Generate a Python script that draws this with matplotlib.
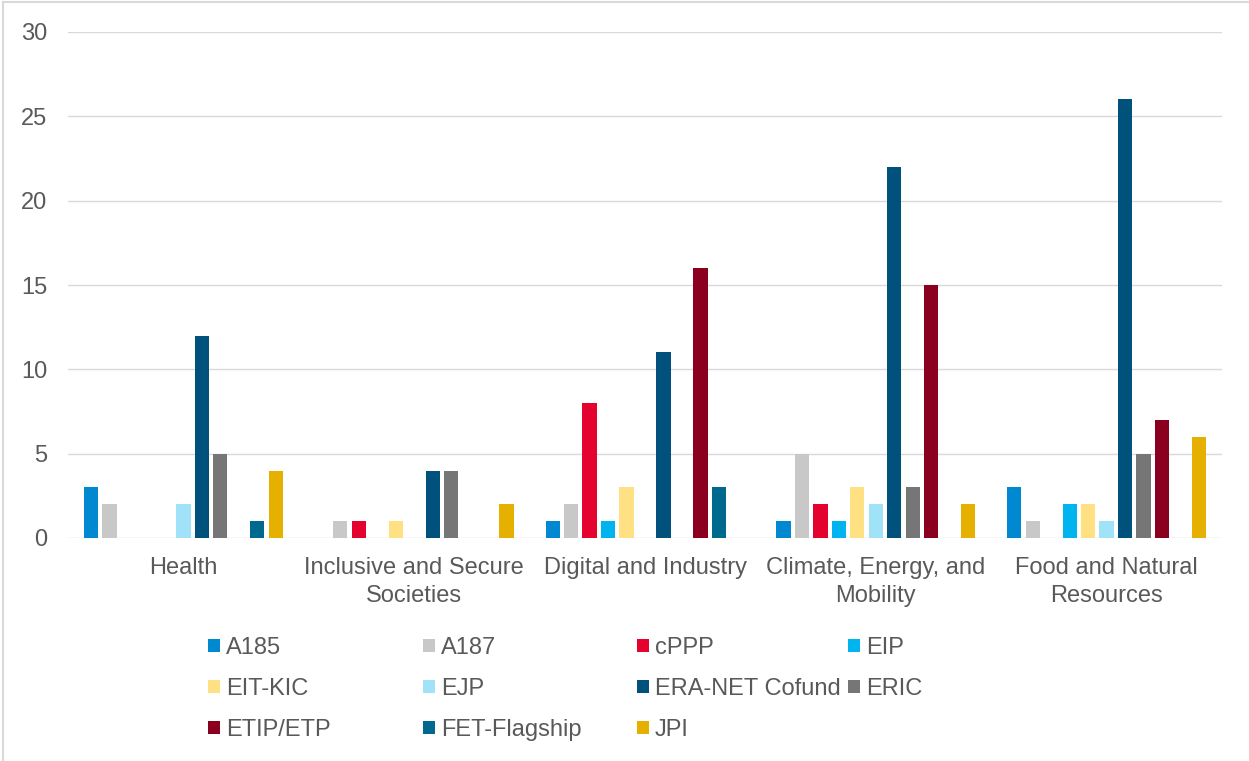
import numpy as np
import matplotlib.pyplot as plt
from matplotlib.lines import Line2D

plt.rcParams['font.family'] = ['Liberation Sans', 'DejaVu Sans']

categories = ['Health', 'Inclusive and Secure\nSocieties', 'Digital and Industry',
              'Climate, Energy, and\nMobility', 'Food and Natural\nResources']
series = ['A185', 'A187', 'cPPP', 'EIP', 'EIT-KIC', 'EJP', 'ERA-NET Cofund',
          'ERIC', 'ETIP/ETP', 'FET-Flagship', 'JPI']
colors = ['#0088D1', '#C8C8C8', '#E4032E', '#00B4F0', '#FFE082', '#A0E2F7',
          '#00527C', '#767676', '#8A001E', '#006A8E', '#E5B000']

a185 = [3, 0, 1, 1, 3]
a187 = [2, 1, 2, 5, 1]
cppp = [0, 1, 8, 2, 0]
eip = [0, 0, 1, 1, 2]
eit_kic = [0, 1, 3, 3, 2]
ejp = [2, 0, 0, 2, 1]
era_net = [12, 4, 11, 22, 26]
eric = [5, 4, 0, 3, 5]
etip = [0, 0, 16, 15, 7]
fet = [1, 0, 3, 0, 0]
jpi = [4, 2, 0, 2, 6]
values = [a185, a187, cppp, eip, eit_kic, ejp, era_net, eric, etip, fet, jpi]

text_col = '#595959'
grid_col = '#D9D9D9'

fig = plt.figure(figsize=(12.49, 7.61), dpi=100)
ax = fig.add_axes([68 / 1249, 1 - 538 / 761, (1222 - 68) / 1249, (538 - 32) / 761])

x = np.arange(len(categories))
step = 0.08
width = 0.062
bars = []
for i, (name, vals) in enumerate(zip(series, values)):
    b = ax.bar(x + (i - 5) * step, vals, width, color=colors[i], label=name, zorder=3)
    bars.append(b)

ax.set_xlim(-0.5, len(categories) - 0.5)
ax.set_ylim(0, 30)
ax.set_yticks(range(0, 31, 5))
ax.set_xticks(x)
ax.set_xticklabels(categories, linespacing=1.35)
ax.grid(axis='y', color=grid_col, linewidth=1.0, zorder=0)
ax.tick_params(axis='both', length=0, labelsize=17, colors=text_col)
ax.tick_params(axis='y', pad=15)
ax.tick_params(axis='x', pad=13.5)
for s in ax.spines.values():
    s.set_visible(False)

# legend: four columns, filled row by row
col_x = [208, 423, 637, 848]
for c in range(4):
    idx = list(range(c, len(series), 4))
    fig.legend([bars[k] for k in idx], [series[k] for k in idx],
               loc='upper left', bbox_to_anchor=(col_x[c] / 1249, 1 - 637 / 761),
               frameon=False, fontsize=17, labelcolor=text_col,
               handlelength=0.5, handleheight=0.5, handletextpad=0.25,
               labelspacing=0.8, borderpad=0, borderaxespad=0)

# chart frame (top and left edge visible)
fig.add_artist(Line2D([3 / 1249, 3 / 1249], [0, 1 - 2 / 761], transform=fig.transFigure,
                      color=grid_col, linewidth=1.5))
fig.add_artist(Line2D([3 / 1249, 1], [1 - 2 / 761, 1 - 2 / 761], transform=fig.transFigure,
                      color=grid_col, linewidth=1.5))

fig.savefig('out.png', dpi=100)
